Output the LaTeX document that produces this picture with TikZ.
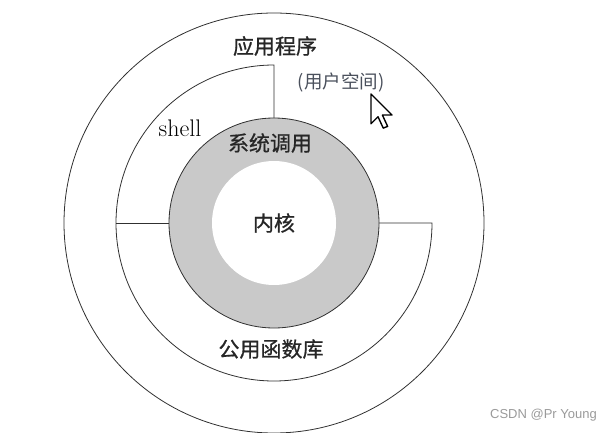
\documentclass[tikz,border=0pt]{standalone}
\usepackage{fontspec}
\usetikzlibrary{positioning}
\newfontfamily\cjk[FakeBold=0.8]{Noto Sans CJK SC}
\newfontfamily\cjknote{Noto Sans CJK SC}
\newfontfamily\wmark{Liberation Sans}
\definecolor{ringgray}{HTML}{C9C9C9}
\definecolor{inkline}{HTML}{303030}
\definecolor{notegray}{HTML}{4A505C}
\definecolor{markgray}{HTML}{9A9A9A}
\tikzset{
  layer/.style={draw=inkline, line width=0.8pt},
  zh/.style={font=\cjk\fontsize{21}{24}\selectfont, text=black!85, inner sep=0pt},
  note/.style={font=\cjknote\fontsize{18.5}{21}\selectfont, text=notegray, inner sep=0pt},
  cursor/.style={draw=black, fill=white, line width=1.4pt, line join=round},
}

\begin{document}
\begin{tikzpicture}[x=1pt, y=1pt]
  \useasboundingbox (0,0) rectangle (609,432);
  \coordinate (core) at (274,209);

  % ---- rings ----
  \draw[layer] (core) circle[radius=210];
  \draw[layer] (core) ++(0,105) -- ++(0,53)
    arc[start angle=90, end angle=360, radius=158] -- ++(-53,0);
  \draw[layer] (core) ++(-158,0) -- ++(53,0);
  \draw[layer, fill=ringgray] (core) circle[radius=105];
  \fill[white] (core) circle[radius=62];

  % ---- labels ----
  \node[zh] (apps) at (275,386) {应用程序};
  \node[note] (user) at (341,350) {(用户空间)};
  \node[inner sep=0pt, font=\fontsize{24}{27}\selectfont] (shell) at (180,304) {shell};
  \node[zh] (syscall) at (270,289) {系统调用};
  \node[zh] (kernel) at (core) {内核};
  \node[zh] (lib) at (271,83) {公用函数库};
  \node[inner sep=0pt, font=\wmark\fontsize{13}{15}\selectfont, text=markgray,
        anchor=east] (csdn) at (597,17) {CSDN @Pr Young};

  % mouse pointer
  \coordinate (tip) at (371,338);
  \draw[cursor, shift={(tip)}, scale=1.75]
    (0,0) -- (0,-17) -- (4,-13) -- (7,-19.5) -- (9.5,-18.5) -- (6.5,-12) -- (12,-12) -- cycle;
\end{tikzpicture}
\end{document}
